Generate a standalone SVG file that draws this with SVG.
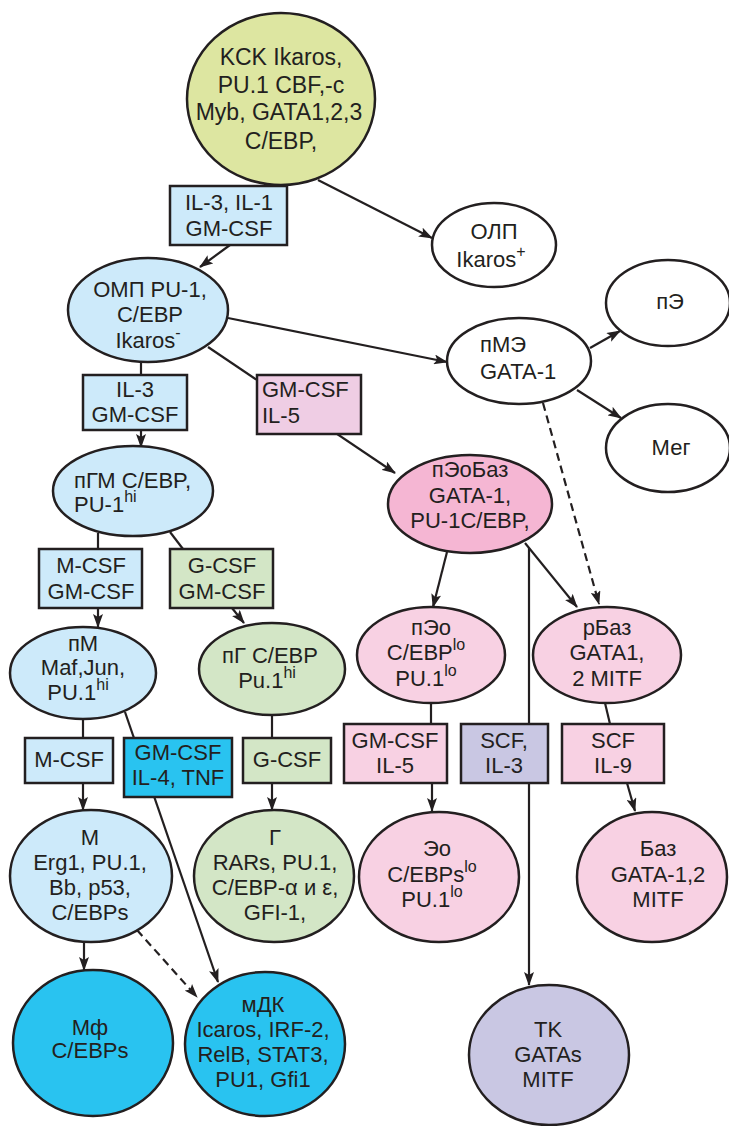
<svg xmlns="http://www.w3.org/2000/svg" width="729" height="1126" viewBox="0 0 729 1126">
  <defs>
    <marker id="arr" viewBox="0 0 14 10" refX="13" refY="5" markerWidth="14" markerHeight="10" markerUnits="userSpaceOnUse" orient="auto">
      <path d="M0,0 L14,5 L0,10 L3,5 z" fill="#231f20"/>
    </marker>
    <style>
      .n ellipse, .n rect { stroke: #231f20; stroke-width: 2.5; }
      text { font-family: "Liberation Sans", Arial, sans-serif; font-size: 22px; fill: #231f20; text-anchor: middle; }
      .l { text-anchor: start; }
      .sup { font-size: 16px; }
      .c line { stroke: #231f20; stroke-width: 2.2; fill: none; }
      .c .a { marker-end: url(#arr); }
      .c .d { stroke-dasharray: 8 5; }
      .yg { fill: #dde6a1; }
      .lb { fill: #cdeafa; }
      .bb { fill: #29c3f0; }
      .lg { fill: #d3e6c6; }
      .dp { fill: #f5b6d3; }
      .lp { fill: #f8d1e3; }
      .mv { fill: #efcde4; }
      .lv { fill: #c9c7e3; }
      .wh { fill: #ffffff; }
    </style>
  </defs>
  <rect width="729" height="1126" fill="#ffffff"/>

  <!-- connectors -->
  <g id="connectors" class="c">
    <line class="a" x1="318" y1="180" x2="432" y2="238"/>
    <line class="a" x1="230" y1="245" x2="200" y2="267"/>
    <line class="a" x1="228" y1="318" x2="447" y2="362"/>
    <line class="a" x1="590" y1="348" x2="620" y2="331"/>
    <line class="a" x1="577" y1="390" x2="621" y2="418"/>
    <line class="a d" x1="543" y1="403" x2="599" y2="604"/>
    <line class="a" x1="208" y1="347" x2="395" y2="473"/>
    <line x1="141" y1="362" x2="141" y2="375"/>
    <line class="a" x1="141" y1="430" x2="141" y2="447"/>
    <line x1="98" y1="533" x2="98" y2="549"/>
    <line class="a" x1="98" y1="608" x2="98" y2="627"/>
    <line x1="170" y1="532" x2="183" y2="549"/>
    <line class="a" x1="232" y1="608" x2="244" y2="623"/>
    <line class="a" x1="125" y1="712" x2="218" y2="982"/>
    <line x1="83" y1="719" x2="83" y2="738"/>
    <line class="a" x1="83" y1="783" x2="83" y2="810"/>
    <line x1="272" y1="715" x2="272" y2="738"/>
    <line class="a" x1="272" y1="783" x2="272" y2="810"/>
    <line class="a" x1="84" y1="942" x2="84" y2="970"/>
    <line class="a d" x1="137" y1="930" x2="197" y2="997"/>
    <line class="a" x1="447" y1="552" x2="433" y2="607"/>
    <line class="a" x1="525" y1="543" x2="577" y2="607"/>
    <line class="a" x1="529" y1="548" x2="529" y2="985"/>
    <line x1="431" y1="703" x2="431" y2="724"/>
    <line class="a" x1="432" y1="783" x2="432" y2="811"/>
    <line x1="605" y1="703" x2="610" y2="724"/>
    <line class="a" x1="627" y1="783" x2="635" y2="811"/>
  </g>

  <!-- stem cell -->
  <g id="kck" class="n">
    <ellipse class="yg" cx="281" cy="99" rx="94" ry="86"/>
    <text x="281" y="65" style="font-size:23px">KCK Ikaros,</text>
    <text x="281" y="93" style="font-size:23px">PU.1 CBF,-c</text>
    <text x="279" y="120" style="font-size:23px">Myb, GATA1,2,3</text>
    <text x="281" y="149" style="font-size:23px">C/EBP,</text>
  </g>

  <g id="f-il3-il1" class="n">
    <rect class="lb" x="170" y="186" width="117" height="59"/>
    <text x="229" y="210">IL-3, IL-1</text>
    <text x="229" y="236">GM-CSF</text>
  </g>

  <g id="olp" class="n">
    <ellipse class="wh" cx="494" cy="245" rx="62" ry="42"/>
    <text x="494" y="239">ОЛП</text>
    <text x="491" y="267">Ikaros<tspan class="sup" dy="-10">+</tspan></text>
  </g>

  <g id="omp" class="n">
    <ellipse class="lb" cx="148" cy="310" rx="80" ry="52"/>
    <text x="150" y="297">ОМП PU-1,</text>
    <text x="150" y="322">C/EBP</text>
    <text x="148" y="348">Ikaros<tspan class="sup" dy="-10">-</tspan></text>
  </g>

  <g id="pme" class="n">
    <ellipse class="wh" cx="519" cy="361" rx="72" ry="43"/>
    <text class="l" x="480" y="352">пМЭ</text>
    <text class="l" x="480" y="379">GATA-1</text>
  </g>

  <g id="pe" class="n">
    <ellipse class="wh" cx="668" cy="303" rx="62" ry="43"/>
    <text x="670" y="309">пЭ</text>
  </g>

  <g id="meg" class="n">
    <ellipse class="wh" cx="668" cy="448" rx="62" ry="44"/>
    <text x="671" y="455">Мег</text>
  </g>

  <g id="f-il3-gmcsf" class="n">
    <rect class="lb" x="83" y="375" width="104" height="55"/>
    <text x="135" y="397">IL-3</text>
    <text x="135" y="422">GM-CSF</text>
  </g>

  <g id="f-gmcsf-il5-a" class="n">
    <rect class="mv" x="257" y="375" width="104" height="59"/>
    <text class="l" x="262" y="397">GM-CSF</text>
    <text class="l" x="262" y="423">IL-5</text>
  </g>

  <g id="pgm" class="n">
    <ellipse class="lb" cx="133" cy="491" rx="80" ry="45"/>
    <text class="l" x="74" y="488">пГМ C/EBP,</text>
    <text class="l" x="74" y="512">PU-1<tspan class="sup" dy="-10">hi</tspan></text>
  </g>

  <g id="peobaz" class="n">
    <ellipse class="dp" cx="470" cy="504" rx="82" ry="49"/>
    <text x="470" y="477">пЭоБаз</text>
    <text x="470" y="503">GATA-1,</text>
    <text x="470" y="528">PU-1C/EBP,</text>
  </g>

  <g id="f-mcsf-gmcsf" class="n">
    <rect class="lb" x="39" y="549" width="103" height="59"/>
    <text x="91" y="573">M-CSF</text>
    <text x="91" y="599">GM-CSF</text>
  </g>

  <g id="f-gcsf-gmcsf" class="n">
    <rect class="lg" x="170" y="549" width="103" height="59"/>
    <text x="222" y="573">G-CSF</text>
    <text x="222" y="599">GM-CSF</text>
  </g>

  <g id="pm" class="n">
    <ellipse class="lb" cx="83" cy="673" rx="73" ry="46"/>
    <text x="83" y="651">пМ</text>
    <text x="83" y="675">Maf,Jun,</text>
    <text x="78" y="700">PU.1<tspan class="sup" dy="-10">hi</tspan></text>
  </g>

  <g id="pg" class="n">
    <ellipse class="lg" cx="272" cy="669" rx="73" ry="46"/>
    <text class="l" x="222" y="663">пГ C/EBP</text>
    <text x="267" y="688">Pu.1<tspan class="sup" dy="-10">hi</tspan></text>
  </g>

  <g id="peo" class="n">
    <ellipse class="lp" cx="431" cy="655" rx="74" ry="48"/>
    <text x="431" y="635">пЭо</text>
    <text x="426" y="660">C/EBP<tspan class="sup" dy="-10">lo</tspan></text>
    <text x="426" y="686">PU.1<tspan class="sup" dy="-10">lo</tspan></text>
  </g>

  <g id="rbaz" class="n">
    <ellipse class="lp" cx="607" cy="655" rx="74" ry="48"/>
    <text x="607" y="635">рБаз</text>
    <text x="607" y="660">GATA1,</text>
    <text x="607" y="686">2 MITF</text>
  </g>

  <g id="f-mcsf" class="n">
    <rect class="lb" x="25" y="738" width="88" height="45"/>
    <text x="69" y="767">M-CSF</text>
  </g>

  <g id="f-gmcsf-il4-tnf" class="n">
    <rect class="bb" x="124" y="738" width="108" height="59"/>
    <text x="178" y="760">GM-CSF</text>
    <text x="178" y="785">IL-4, TNF</text>
  </g>

  <g id="f-gcsf" class="n">
    <rect class="lg" x="243" y="738" width="88" height="45"/>
    <text x="287" y="767">G-CSF</text>
  </g>

  <g id="f-gmcsf-il5-b" class="n">
    <rect class="lp" x="344" y="724" width="103" height="59"/>
    <text x="395" y="748">GM-CSF</text>
    <text x="395" y="773">IL-5</text>
  </g>

  <g id="f-scf-il3" class="n">
    <rect class="lv" x="461" y="724" width="87" height="59"/>
    <text x="504" y="748">SCF,</text>
    <text x="504" y="773">IL-3</text>
  </g>

  <g id="f-scf-il9" class="n">
    <rect class="lp" x="562" y="724" width="102" height="59"/>
    <text x="613" y="748">SCF</text>
    <text x="613" y="773">IL-9</text>
  </g>

  <g id="m" class="n">
    <ellipse class="lb" cx="91" cy="876" rx="81" ry="66"/>
    <text x="90" y="845">M</text>
    <text x="90" y="870">Erg1, PU.1,</text>
    <text x="90" y="895">Bb, p53,</text>
    <text x="90" y="920">C/EBPs</text>
  </g>

  <g id="g" class="n">
    <ellipse class="lg" cx="274" cy="876" rx="80" ry="66"/>
    <text x="275" y="845">Г</text>
    <text x="275" y="870">RARs, PU.1,</text>
    <text x="275" y="895">C/EBP-α и ε,</text>
    <text x="275" y="920">GFI-1,</text>
  </g>

  <g id="eo" class="n">
    <ellipse class="lp" cx="439" cy="877" rx="80" ry="65"/>
    <text x="437" y="856">Эо</text>
    <text x="432" y="882">C/EBPs<tspan class="sup" dy="-10">lo</tspan></text>
    <text x="432" y="907">PU.1<tspan class="sup" dy="-10">lo</tspan></text>
  </g>

  <g id="baz" class="n">
    <ellipse class="lp" cx="652" cy="877" rx="75" ry="65"/>
    <text x="658" y="856">Баз</text>
    <text x="658" y="882">GATA-1,2</text>
    <text x="658" y="907">MITF</text>
  </g>

  <g id="mf" class="n">
    <ellipse class="bb" cx="93" cy="1043" rx="80" ry="73"/>
    <text x="90" y="1035">Мф</text>
    <text x="90" y="1058">C/EBPs</text>
  </g>

  <g id="mdk" class="n">
    <ellipse class="bb" cx="265" cy="1044" rx="80" ry="72"/>
    <text x="263" y="1012">мДК</text>
    <text x="263" y="1037">Icaros, IRF-2,</text>
    <text x="263" y="1062">RelB, STAT3,</text>
    <text x="263" y="1087">PU1, Gfi1</text>
  </g>

  <g id="tk" class="n">
    <ellipse class="lv" cx="549" cy="1055" rx="80" ry="70"/>
    <text x="548" y="1037">TK</text>
    <text x="548" y="1062">GATAs</text>
    <text x="548" y="1087">MITF</text>
  </g>
</svg>
